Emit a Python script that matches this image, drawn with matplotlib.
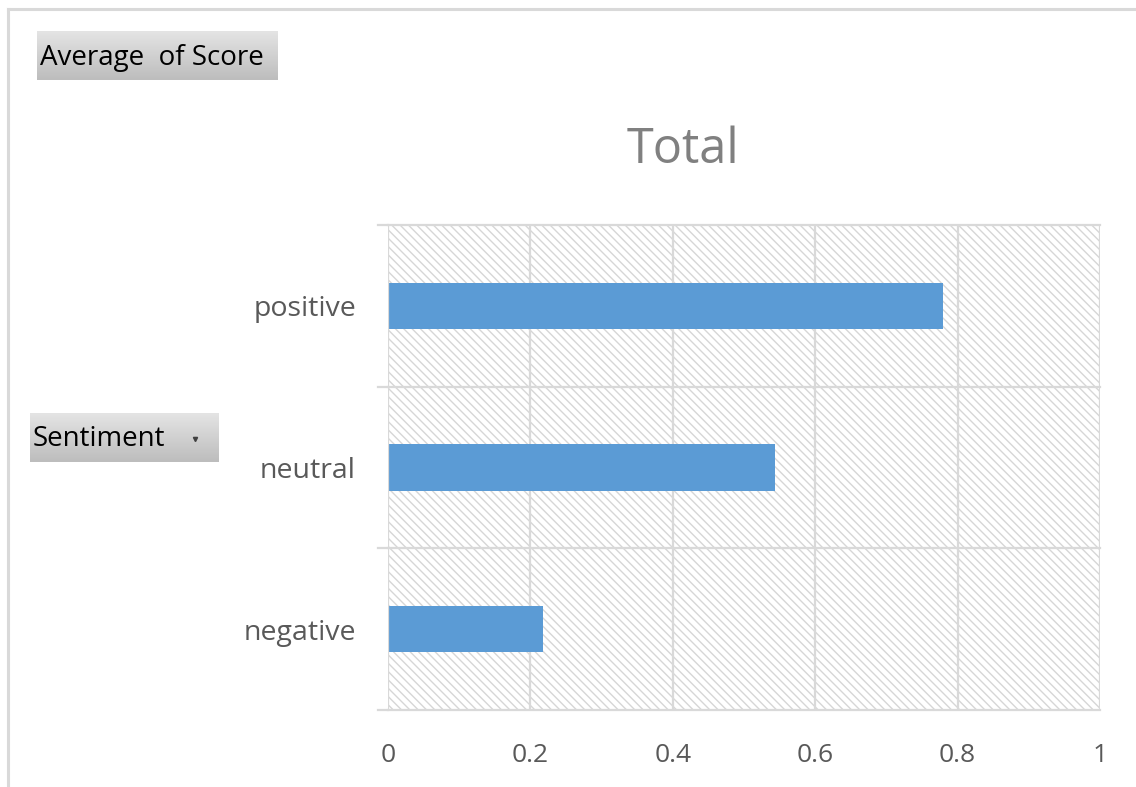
import matplotlib.pyplot as plt
import numpy as np
from matplotlib.patches import Rectangle

# average score per sentiment
categories = ['negative', 'neutral', 'positive']
avg_score = [0.217, 0.544, 0.780]
xticks = [0, 0.2, 0.4, 0.6, 0.8, 1]
xtick_labels = ['0', '0.2', '0.4', '0.6', '0.8', '1']

plt.rcParams['font.family'] = ['Open Sans', 'DejaVu Sans']
plt.rcParams['hatch.linewidth'] = 1.0

W, H = 1136, 787
fig = plt.figure(figsize=(W / 100, H / 100), dpi=100)
fig.patch.set_facecolor('white')

grid_col = '#d9d9d9'
text_col = '#595959'

# outer chart frame (top and left edges visible)
fig.add_artist(plt.Line2D([8 / W, 1.0], [1 - 9 / H, 1 - 9 / H], color=grid_col, lw=2.2))
fig.add_artist(plt.Line2D([8 / W, 8 / W], [0, 1 - 9 / H], color=grid_col, lw=2.2))

# plot area
x0, x1, y0, y1 = 388, 1100, 225, 710
ax = fig.add_axes([x0 / W, 1 - y1 / H, (x1 - x0) / W, (y1 - y0) / H])
ax.set_xlim(0, 1)
ax.set_ylim(-0.5, len(categories) - 0.5)

# hatched background
bg = Rectangle((0, 0), 1, 1, transform=ax.transAxes, facecolor='white',
               edgecolor='#d6d6d6', linewidth=0, hatch='\\\\\\\\', zorder=0)
ax.add_patch(bg)

ypos = np.arange(len(categories))
ax.barh(ypos, avg_score, height=0.285, color='#5b9bd5', zorder=3)

# gridlines
for xv in xticks[1:]:
    ax.axvline(xv, color=grid_col, lw=1.6, zorder=1)
for yv in np.arange(-0.5, len(categories), 1.0):
    ax.axhline(yv, color=grid_col, lw=1.6, zorder=1, clip_on=False)
    ax.plot([-10 / (x1 - x0), 0], [yv, yv], color=grid_col, lw=1.6,
            clip_on=False, zorder=1)
ax.axvline(0, color=grid_col, lw=1.6, zorder=4)

for s in ax.spines.values():
    s.set_visible(False)

ax.set_xticks(xticks)
ax.set_xticklabels(xtick_labels)
ax.tick_params(axis='x', length=0, pad=24, labelsize=19, labelcolor=text_col)
ax.set_yticks(ypos)
ax.set_yticklabels(categories)
ax.tick_params(axis='y', length=0, pad=23, labelsize=20.5, labelcolor=text_col)

# title
fig.text(683 / W, 1 - 163 / H, 'Total', ha='center', va='baseline',
         fontsize=35, color='#808080')


def field_button(x, y, w, h, label, arrow=False):
    bax = fig.add_axes([x / W, 1 - (y + h) / H, w / W, h / H])
    grad = np.linspace(0, 1, 64).reshape(-1, 1)
    bax.imshow(grad, cmap=plt.matplotlib.colors.LinearSegmentedColormap.from_list(
        'btn', ['#e4e4e4', '#bdbdbd']), aspect='auto', extent=[0, w, h, 0])
    bax.set_xlim(0, w)
    bax.set_ylim(h, 0)
    bax.axis('off')
    bax.text(3, h / 2 + 2, label, ha='left', va='center', fontsize=20, color='black')
    if arrow:
        bax.plot([w - 24], [h / 2 + 1], marker='v', ms=3, color='#404040')


field_button(37, 31, 241, 49, 'Average  of Score')
field_button(30, 413, 189, 49, 'Sentiment', arrow=True)

fig.savefig('out.png', dpi=100)
